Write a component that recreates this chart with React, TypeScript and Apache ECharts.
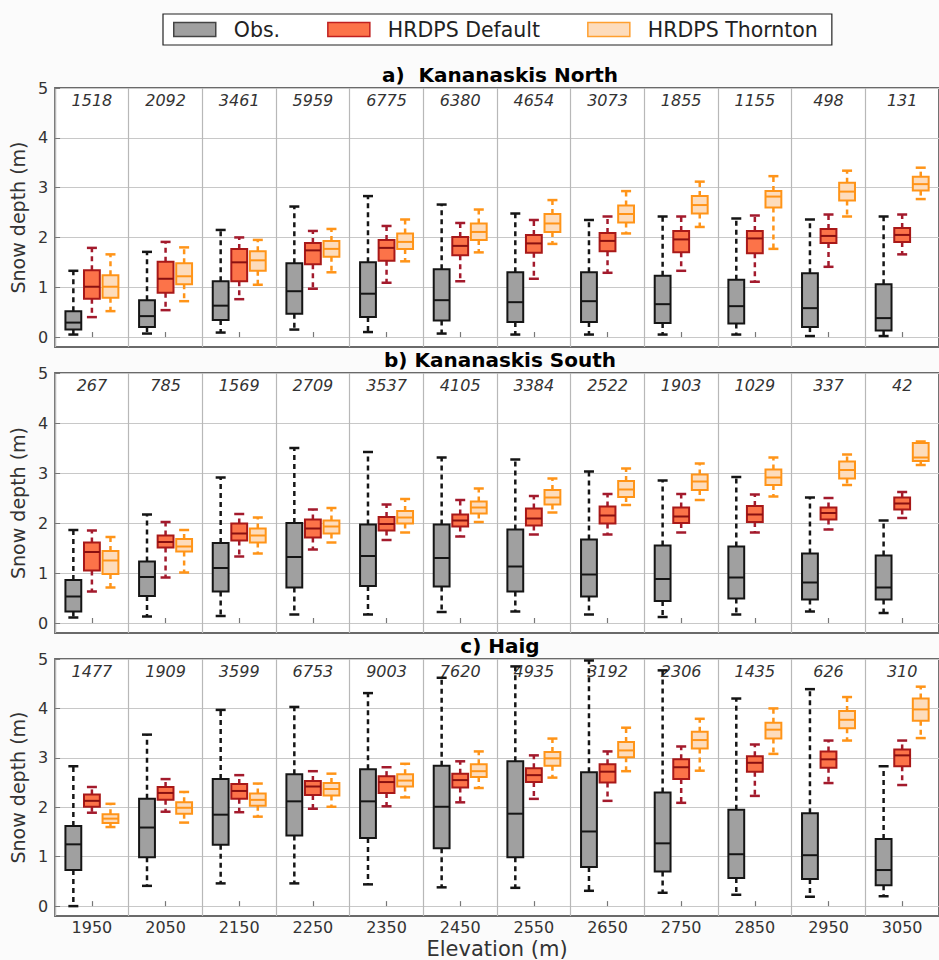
import React, { useEffect, useRef } from "react";
import * as echarts from "echarts";

// Elevation band categories (x-axis tick labels)
const ELEVATIONS = ["1950", "2050", "2150", "2250", "2350", "2450", "2550", "2650", "2750", "2850", "2950", "3050"];

// Sample counts per elevation band
const COUNTS_A = ["1518", "2092", "3461", "5959", "6775", "6380", "4654", "3073", "1855", "1155", "498", "131"];
const COUNTS_B = ["267", "785", "1569", "2709", "3537", "4105", "3384", "2522", "1903", "1029", "337", "42"];
const COUNTS_C = ["1477", "1909", "3599", "6753", "9003", "7620", "4935", "3192", "2306", "1435", "626", "310"];

// Box statistics: [min whisker, q1, median, q3, max whisker] (m)
const OBS_A = [
  [0.05, 0.15, 0.29, 0.52, 1.33], [0.07, 0.2, 0.42, 0.74, 1.71], [0.09, 0.34, 0.63, 1.12, 2.15],
  [0.15, 0.47, 0.92, 1.48, 2.62], [0.1, 0.4, 0.87, 1.5, 2.83], [0.07, 0.33, 0.74, 1.36, 2.66],
  [0.05, 0.3, 0.7, 1.3, 2.48], [0.05, 0.3, 0.72, 1.3, 2.35], [0.05, 0.28, 0.66, 1.23, 2.42],
  [0.05, 0.27, 0.62, 1.15, 2.38], [0.02, 0.2, 0.58, 1.28, 2.36], [0.02, 0.13, 0.38, 1.06, 2.42],
];
const DEF_A = [
  [0.4, 0.77, 1.01, 1.34, 1.79], [0.54, 0.89, 1.17, 1.51, 1.91], [0.76, 1.12, 1.5, 1.77, 2.0],
  [0.97, 1.46, 1.74, 1.89, 2.13], [1.09, 1.53, 1.79, 1.95, 2.23], [1.12, 1.64, 1.83, 2.01, 2.29],
  [1.17, 1.69, 1.88, 2.05, 2.35], [1.29, 1.72, 1.93, 2.09, 2.42], [1.33, 1.7, 1.96, 2.13, 2.42],
  [1.11, 1.68, 1.98, 2.13, 2.44], [1.41, 1.89, 2.03, 2.17, 2.46], [1.66, 1.91, 2.05, 2.19, 2.46],
];
const THO_A = [
  [0.52, 0.79, 1.01, 1.24, 1.66], [0.72, 1.06, 1.22, 1.48, 1.8], [1.05, 1.33, 1.54, 1.72, 1.95],
  [1.3, 1.61, 1.77, 1.93, 2.17], [1.52, 1.77, 1.91, 2.08, 2.36], [1.7, 1.95, 2.11, 2.28, 2.56],
  [1.87, 2.11, 2.28, 2.47, 2.75], [2.08, 2.3, 2.47, 2.64, 2.93], [2.21, 2.48, 2.65, 2.83, 3.12],
  [1.77, 2.6, 2.82, 2.93, 3.23], [2.42, 2.74, 2.92, 3.1, 3.34], [2.77, 2.94, 3.07, 3.22, 3.4],
];

const OBS_B = [
  [0.11, 0.23, 0.53, 0.86, 1.86], [0.13, 0.54, 0.92, 1.23, 2.17], [0.14, 0.63, 1.1, 1.6, 2.91],
  [0.17, 0.71, 1.32, 2.0, 3.5], [0.17, 0.74, 1.34, 1.97, 3.42], [0.22, 0.73, 1.3, 1.97, 3.31],
  [0.23, 0.63, 1.13, 1.87, 3.27], [0.17, 0.53, 0.97, 1.67, 3.03], [0.12, 0.44, 0.88, 1.55, 2.85],
  [0.17, 0.49, 0.91, 1.53, 2.92], [0.23, 0.47, 0.81, 1.39, 2.51], [0.2, 0.47, 0.71, 1.35, 2.05],
];
const DEF_B = [
  [0.63, 1.05, 1.42, 1.61, 1.85], [0.91, 1.51, 1.62, 1.75, 2.02], [1.33, 1.65, 1.79, 1.99, 2.18],
  [1.47, 1.71, 1.89, 2.07, 2.27], [1.66, 1.85, 1.98, 2.12, 2.37], [1.73, 1.93, 2.05, 2.17, 2.46],
  [1.77, 1.95, 2.09, 2.29, 2.54], [1.77, 1.99, 2.15, 2.33, 2.58], [1.81, 2.0, 2.13, 2.31, 2.58],
  [1.81, 2.02, 2.17, 2.34, 2.57], [1.87, 2.07, 2.2, 2.31, 2.5], [2.1, 2.27, 2.39, 2.51, 2.62],
];
const THO_B = [
  [0.71, 0.98, 1.25, 1.44, 1.72], [1.01, 1.43, 1.53, 1.68, 1.86], [1.39, 1.61, 1.75, 1.89, 2.11],
  [1.61, 1.79, 1.93, 2.05, 2.3], [1.81, 1.99, 2.11, 2.24, 2.48], [2.02, 2.19, 2.31, 2.43, 2.69],
  [2.21, 2.37, 2.51, 2.66, 2.89], [2.36, 2.52, 2.67, 2.84, 3.09], [2.46, 2.66, 2.83, 2.97, 3.19],
  [2.53, 2.76, 2.91, 3.07, 3.31], [2.76, 2.89, 3.06, 3.23, 3.37], [3.16, 3.24, 3.31, 3.6, 3.63],
];

const OBS_C = [
  [0.0, 0.73, 1.25, 1.62, 2.83], [0.41, 0.99, 1.59, 2.17, 3.47], [0.46, 1.24, 1.85, 2.57, 3.97],
  [0.46, 1.43, 2.12, 2.67, 4.03], [0.44, 1.38, 2.12, 2.77, 4.31], [0.38, 1.17, 2.01, 2.84, 4.62],
  [0.37, 0.99, 1.87, 2.93, 4.85], [0.31, 0.79, 1.51, 2.71, 4.97], [0.27, 0.7, 1.27, 2.3, 4.77],
  [0.23, 0.57, 1.05, 1.95, 4.2], [0.19, 0.55, 1.03, 1.88, 4.39], [0.2, 0.42, 0.73, 1.36, 2.83],
];
const DEF_C = [
  [1.89, 2.01, 2.13, 2.26, 2.41], [1.91, 2.15, 2.29, 2.41, 2.57], [1.9, 2.17, 2.33, 2.47, 2.65],
  [1.97, 2.25, 2.42, 2.53, 2.73], [2.02, 2.29, 2.51, 2.63, 2.81], [2.1, 2.4, 2.55, 2.68, 2.93],
  [2.17, 2.51, 2.65, 2.79, 3.05], [2.13, 2.5, 2.72, 2.87, 3.13], [2.09, 2.57, 2.81, 2.97, 3.23],
  [2.23, 2.72, 2.9, 3.03, 3.27], [2.49, 2.8, 2.97, 3.13, 3.35], [2.45, 2.83, 3.05, 3.17, 3.35],
];
const THO_C = [
  [1.6, 1.68, 1.77, 1.86, 2.07], [1.69, 1.87, 1.99, 2.1, 2.31], [1.81, 2.03, 2.15, 2.28, 2.48],
  [2.01, 2.24, 2.37, 2.49, 2.68], [2.2, 2.42, 2.54, 2.67, 2.88], [2.39, 2.61, 2.73, 2.87, 3.13],
  [2.6, 2.84, 2.99, 3.12, 3.39], [2.73, 3.01, 3.15, 3.32, 3.61], [2.74, 3.19, 3.36, 3.53, 3.79],
  [3.08, 3.39, 3.57, 3.71, 4.0], [3.35, 3.6, 3.77, 3.95, 4.23], [3.4, 3.75, 3.98, 4.2, 4.44],
];

const PANEL_TITLES = ["a)  Kananaskis North", "b) Kananaskis South", "c) Haig"];
const Y_TICKS = [0, 1, 2, 3, 4, 5];

const FONT = "DejaVu Sans";

type BoxStyle = { fill: string; border: string; median: string; whisker: string; cap: string };
const STYLES: Record<string, BoxStyle> = {
  obs: { fill: "#a0a0a0", border: "#151515", median: "#151515", whisker: "#151515", cap: "#151515" },
  def: { fill: "#fc7349", border: "#a81818", median: "#8a1010", whisker: "#a31a2c", cap: "#a31a2c" },
  tho: { fill: "#fddcbc", border: "#ff9418", median: "#ff9418", whisker: "#ff9418", cap: "#ff9418" },
};

const BOX_W = 0.215;
const CAP_HALF = 5;

function boxRenderer(offset: number, st: BoxStyle) {
  return (_params: any, api: any) => {
    const i = api.value(0);
    const band = api.size([1, 0])[0];
    const cx = api.coord([i, 0])[0] + offset * band;
    const w = BOX_W * band;
    const y = (v: number) => api.coord([i, v])[1];
    const yMin = y(api.value(1));
    const yQ1 = y(api.value(2));
    const yMed = y(api.value(3));
    const yQ3 = y(api.value(4));
    const yMax = y(api.value(5));
    const dash = { stroke: st.whisker, lineWidth: 2.5, lineDash: [5, 4] };
    const cap = { stroke: st.cap, lineWidth: 2.5 };
    return {
      type: "group",
      children: [
        { type: "line", shape: { x1: cx, y1: yQ3, x2: cx, y2: yMax }, style: dash },
        { type: "line", shape: { x1: cx, y1: yQ1, x2: cx, y2: yMin }, style: dash },
        { type: "line", shape: { x1: cx - CAP_HALF, y1: yMax, x2: cx + CAP_HALF, y2: yMax }, style: cap },
        { type: "line", shape: { x1: cx - CAP_HALF, y1: yMin, x2: cx + CAP_HALF, y2: yMin }, style: cap },
        {
          type: "rect",
          shape: { x: cx - w / 2, y: yQ3, width: w, height: yQ1 - yQ3 },
          style: { fill: st.fill, stroke: st.border, lineWidth: 2 },
        },
        { type: "line", shape: { x1: cx - w / 2, y1: yMed, x2: cx + w / 2, y2: yMed }, style: { stroke: st.median, lineWidth: 2 } },
      ],
    };
  };
}

const GRIDS = [
  { top: 88, height: 259 },
  { top: 373, height: 260 },
  { top: 659, height: 261 },
];

export default function App() {
  const ref = useRef<HTMLDivElement>(null);

  useEffect(() => {
    if (!ref.current) return;
    const chart = echarts.init(ref.current, null, { renderer: "svg" });

    const panels = [
      { obs: OBS_A, def: DEF_A, tho: THO_A, counts: COUNTS_A },
      { obs: OBS_B, def: DEF_B, tho: THO_B, counts: COUNTS_B },
      { obs: OBS_C, def: DEF_C, tho: THO_C, counts: COUNTS_C },
    ];

    const grid = GRIDS.map((g) => ({
      left: 54,
      width: 893,
      top: g.top,
      height: g.height,
      show: true,
      backgroundColor: "#ffffff",
      borderColor: "#6a6a6a",
      borderWidth: 2,
    }));

    const xAxis: any[] = [];
    const yAxis: any[] = [];
    panels.forEach((p, k) => {
      const last = k === panels.length - 1;
      xAxis.push({
        type: "category",
        gridIndex: k,
        data: ELEVATIONS,
        boundaryGap: true,
        axisLine: { show: false },
        axisTick: { show: true, inside: true, length: 5, alignWithLabel: true, lineStyle: { color: "#777", width: 1.2 } },
        axisLabel: { show: last, fontSize: 16, color: "#333", fontFamily: FONT, margin: 3 },
        splitLine: { show: true, lineStyle: { color: "#b8b8b8", width: 1.2 } },
        name: last ? "Elevation (m)" : "",
        nameLocation: "middle",
        nameGap: 22,
        nameTextStyle: { fontSize: 21, color: "#333", fontFamily: FONT },
      });
      xAxis.push({
        type: "category",
        gridIndex: k,
        position: "top",
        data: p.counts,
        boundaryGap: true,
        axisLine: { show: false },
        axisTick: { show: false },
        splitLine: { show: false },
        axisLabel: { show: true, inside: true, margin: 4, fontSize: 16, fontStyle: "italic", color: "#333", fontFamily: FONT },
      });
      yAxis.push({
        type: "value",
        gridIndex: k,
        min: -0.2,
        max: 5,
        axisLine: { show: false },
        axisTick: { show: true, inside: true, length: 5, customValues: Y_TICKS, lineStyle: { color: "#777" } },
        axisLabel: { show: true, customValues: Y_TICKS, fontSize: 16, color: "#333", fontFamily: FONT, margin: 7 },
        splitLine: { show: true, lineStyle: { color: "#c8c8c8", width: 1.2 } },
        name: "Snow depth (m)",
        nameLocation: "middle",
        nameRotate: 90,
        nameGap: 24,
        nameTextStyle: { fontSize: 19, color: "#333", fontFamily: FONT },
      });
    });

    const series: any[] = [];
    panels.forEach((p, k) => {
      const defs: [string, number[][], number, BoxStyle][] = [
        ["Obs.", p.obs, -0.252, STYLES.obs],
        ["HRDPS Default", p.def, 0, STYLES.def],
        ["HRDPS Thornton", p.tho, 0.252, STYLES.tho],
      ];
      defs.forEach(([name, rows, off, st]) => {
        series.push({
          type: "custom",
          name,
          xAxisIndex: k * 2,
          yAxisIndex: k,
          itemStyle: { color: st.fill, borderColor: st.border },
          encode: { x: 0, y: [1, 2, 3, 4, 5] },
          data: rows.map((r, i) => [i, ...r]),
          renderItem: boxRenderer(off, st),
          silent: true,
          z: 3,
        });
      });
    });

    const titles = PANEL_TITLES.map((t, k) => ({
      text: t,
      left: 500,
      textAlign: "center",
      top: [65, 350, 636][k],
      padding: 0,
      textStyle: { fontSize: 20, fontWeight: "bold", color: "#000", fontFamily: FONT },
    }));

    chart.setOption({
      animation: false,
      backgroundColor: "#fbfbfb",
      textStyle: { fontFamily: FONT },
      title: titles,
      legend: {
        left: 163,
        top: 14,
        orient: "horizontal",
        itemWidth: 42,
        itemHeight: 14,
        itemGap: 47,
        padding: [5, 14, 5, 10],
        borderColor: "#222",
        borderWidth: 1.2,
        backgroundColor: "#fff",
        selectedMode: false,
        textStyle: { fontSize: 20.5, color: "#222", fontFamily: FONT, padding: [0, 0, 0, 13] },
        data: [
          { name: "Obs.", icon: "rect", itemStyle: { color: STYLES.obs.fill, borderColor: "#444", borderWidth: 1.5 } },
          { name: "HRDPS Default", icon: "rect", itemStyle: { color: STYLES.def.fill, borderColor: "#c02020", borderWidth: 1.5 } },
          { name: "HRDPS Thornton", icon: "rect", itemStyle: { color: STYLES.tho.fill, borderColor: "#ffa030", borderWidth: 1.5 } },
        ],
      },
      grid,
      xAxis,
      yAxis,
      series,
    });

    return () => chart.dispose();
  }, []);

  return (
    <div
      ref={ref}
      style={{ position: "fixed", left: 0, top: 0, width: 939, height: 960 }}
    />
  );
}
